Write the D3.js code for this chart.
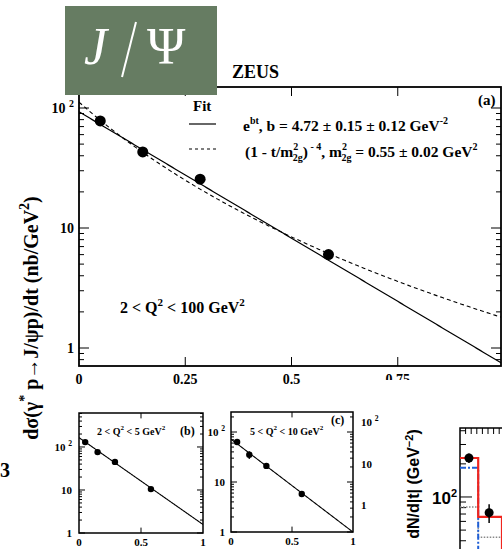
<!DOCTYPE html>
<html>
<head>
<meta charset="utf-8">
<script src="https://cdn.jsdelivr.net/npm/d3@7"></script>
<style>
  body { margin: 0; background: #fff; }
  svg text { font-family: "Liberation Serif", "Times New Roman", Times, "DejaVu Serif", serif; font-weight: bold; fill: #000; }
  svg text.sans { font-family: "Liberation Sans", Arial, Helvetica, sans-serif; }
</style>
</head>
<body>
<svg id="chart"></svg>
<script>
// ---- data ----
// panel (a): 2 < Q2 < 100 GeV2
var tA = [0.05, 0.15, 0.285, 0.587];
var sigA = [78, 43, 25.5, 6.0];
var errA = [4, 2.5, 1.5, 0.4];
var expA = [93, 4.85];        // norm, slope as drawn
var dipA = [112, 0.55];       // norm, m2_2g
var ticksA = [0, 0.25, 0.5, 0.75];

// panel (b): 2 < Q2 < 5
var tB = [0.05, 0.15, 0.29, 0.58];
var sigB = [130, 76, 45, 10.5];
var errB = [14, 9, 4, 1.2];
var expB = [165, 4.65];

// panel (c): 5 < Q2 < 10
var tC = [0.05, 0.15, 0.29, 0.58];
var sigC = [63, 35, 21, 5.75];
var errC = [7, 6, 2, 0.6];
var expC = [72, 4.28];

// bottom-right fragment: dN/d|t|
var binEdges = [0, 0.065, 0.15, 0.3];
var redHist = [226, 66, 25];
var blueHist = [184, 25, 20];
var greyHist = [81, 43, 20];
var tD = [0.032, 0.104];
var nD = [226, 72];
var errD = [22, 14];

var W = 502, H = 549;
var svg = d3.select("#chart").attr("width", W).attr("height", H);
svg.append("rect").attr("width", W).attr("height", H).attr("fill", "#fff");

function logTicks(lo, hi) {
    var out = [];
    for (var k = Math.floor(Math.log10(lo)); k <= Math.ceil(Math.log10(hi)); k++) {
        for (var m = 1; m <= 9; m++) {
            var v = m * Math.pow(10, k);
            if (v >= lo * 0.999 && v <= hi * 1.001) out.push({v: v, major: m == 1});
        }
    }
    return out;
}

// superscript label like "10 2"
function powLabel(g, x, y, v, size, anchor) {
    var t = g.append("text").attr("x", x).attr("y", y)
        .attr("text-anchor", anchor || "end")
        .style("font-size", size + "px");
    if (v >= 100) {
        t.append("tspan").text("10 ");
        t.append("tspan").attr("dy", -size * 0.45).style("font-size", (size * 0.7) + "px").text("2");
    } else {
        t.text(v == 10 ? "10" : "1");
    }
    return t;
}

// generic framed panel with log y axis
function drawPanel(o) {
    var g = svg.append("g");
    var x = d3.scaleLinear().domain([0, 1]).range([o.x0, o.x0 + o.xw]);
    var y = d3.scaleLog().domain(o.ydom).range([o.y1, o.y0]);
    var clipId = "clip" + o.id;
    svg.append("clipPath").attr("id", clipId).append("rect")
        .attr("x", o.x0).attr("y", o.y0).attr("width", o.x1 - o.x0).attr("height", o.y1 - o.y0);

    var lt = logTicks(o.ydom[0], o.ydom[1]);
    g.selectAll("line.lt").data(lt).enter().append("line")
        .attr("x1", o.x0).attr("x2", function(d) { return o.x0 + (d.major ? o.maj : o.min); })
        .attr("y1", function(d) { return y(d.v); }).attr("y2", function(d) { return y(d.v); })
        .attr("stroke", "#000").attr("stroke-width", 1);
    g.selectAll("line.rt").data(lt).enter().append("line")
        .attr("x1", o.x1).attr("x2", function(d) { return o.x1 - (d.major ? o.maj : o.min); })
        .attr("y1", function(d) { return y(d.v); }).attr("y2", function(d) { return y(d.v); })
        .attr("stroke", "#000").attr("stroke-width", 1);
    g.selectAll("line.bt").data(o.xticks.filter(function(d) { return d > 0; })).enter().append("line")
        .attr("x1", function(d) { return x(d); }).attr("x2", function(d) { return x(d); })
        .attr("y1", o.y1).attr("y2", o.y1 - o.maj * 0.9)
        .attr("stroke", "#000");
    g.selectAll("line.tt").data(o.xticks.filter(function(d) { return d > 0; })).enter().append("line")
        .attr("x1", function(d) { return x(d); }).attr("x2", function(d) { return x(d); })
        .attr("y1", o.y0).attr("y2", o.y0 + o.maj * 0.9)
        .attr("stroke", "#000");

    g.append("rect").attr("x", o.x0).attr("y", o.y0)
        .attr("width", o.x1 - o.x0).attr("height", o.y1 - o.y0)
        .attr("fill", "none").attr("stroke", "#000").attr("stroke-width", o.fw);

    // x labels
    g.selectAll("text.xl").data(o.xlabels).enter().append("text")
        .attr("x", function(d) { return x(d); }).attr("y", o.y1 + o.xlDy)
        .attr("text-anchor", "middle").style("font-size", o.lfs + "px")
        .text(function(d) { return d; });
    // y labels
    o.ylabels.forEach(function(v) {
        powLabel(g, o.ylX, y(v) + o.lfs * 0.35, v, o.lfs, o.ylAnchor);
    });

    var cg = g.append("g").attr("clip-path", "url(#" + clipId + ")");
    o.curves.forEach(function(c) {
        var line = d3.line().x(function(d) { return x(d); }).y(function(d) { return y(c.f(d)); });
        cg.append("path").datum(d3.range(0, 1.0001, 0.005))
            .attr("d", line).attr("fill", "none").attr("stroke", "#000")
            .attr("stroke-width", c.w).attr("stroke-dasharray", c.dash || null);
    });
    // error bars + points
    g.selectAll("line.eb").data(o.t).enter().append("line")
        .attr("x1", function(d) { return x(d); }).attr("x2", function(d) { return x(d); })
        .attr("y1", function(d, i) { return y(o.s[i] + o.e[i]); })
        .attr("y2", function(d, i) { return y(o.s[i] - o.e[i]); })
        .attr("stroke", "#000").attr("stroke-width", 1.5);
    g.selectAll("circle").data(o.t).enter().append("circle")
        .attr("cx", function(d) { return x(d); }).attr("cy", function(d, i) { return y(o.s[i]); })
        .attr("r", o.r).attr("fill", "#000");
    return {g: g, x: x, y: y};
}

// ---- panel (a) ----
var pa = drawPanel({
    id: "a", x0: 79, x1: 501, xw: 425, y0: 87, y1: 366,
    ydom: [Math.pow(10, -0.15), Math.pow(10, 2.175)],
    maj: 10, min: 5, fw: 1.8, lfs: 14, xlDy: 18, ylX: 74, ylAnchor: "end",
    xticks: ticksA, xlabels: ticksA, ylabels: [1, 10, 100],
    t: tA, s: sigA, e: errA, r: 5.5,
    curves: [
        {f: function(t) { return expA[0] * Math.exp(-expA[1] * t); }, w: 1.2},
        {f: function(t) { return dipA[0] * Math.pow(1 + t / dipA[1], -4); }, w: 1.1, dash: "4,3"}
    ]
});

// legend
var lg = svg.append("g");
lg.append("text").attr("x", 193).attr("y", 111).style("font-size", "15px").text("Fit");
lg.append("line").attr("x1", 189).attr("x2", 216).attr("y1", 124).attr("y2", 124).attr("stroke", "#000").attr("stroke-width", 1.2);
lg.append("line").attr("x1", 189).attr("x2", 216).attr("y1", 149).attr("y2", 149).attr("stroke", "#000").attr("stroke-width", 1.1).attr("stroke-dasharray", "3,3");
var l1 = lg.append("text").attr("x", 243).attr("y", 131).style("font-size", "15.5px");
l1.append("tspan").text("e");
l1.append("tspan").attr("dy", -7).style("font-size", "10px").text("bt");
l1.append("tspan").attr("dy", 7).text(", b = 4.72 \u00b1 0.15 \u00b1 0.12 GeV");
l1.append("tspan").attr("dy", -7).style("font-size", "10px").text("-2");
var l2 = lg.append("text").attr("x", 245).attr("y", 157).style("font-size", "15.5px");
l2.append("tspan").text("(1 - t/m");
l2.append("tspan").attr("dy", -7).style("font-size", "10px").text("2");
l2.append("tspan").attr("dx", -5.5).attr("dy", 11).style("font-size", "10px").text("2g");
l2.append("tspan").attr("dy", -4).text(")");
l2.append("tspan").attr("dy", -7).style("font-size", "10px").text(" - 4");
l2.append("tspan").attr("dy", 7).text(", m");
l2.append("tspan").attr("dy", -7).style("font-size", "10px").text("2");
l2.append("tspan").attr("dx", -5.5).attr("dy", 11).style("font-size", "10px").text("2g");
l2.append("tspan").attr("dy", -4).text(" = 0.55 \u00b1 0.02 GeV");
l2.append("tspan").attr("dy", -7).style("font-size", "10px").text("2");
svg.append("text").attr("x", 478).attr("y", 105).style("font-size", "15px").text("(a)");

var qa = svg.append("text").attr("x", 120).attr("y", 313).style("font-size", "16px");
qa.append("tspan").text("2 < Q");
qa.append("tspan").attr("dy", -7).style("font-size", "11px").text("2");
qa.append("tspan").attr("dy", 7).text(" < 100 GeV");
qa.append("tspan").attr("dy", -7).style("font-size", "11px").text("2");

// y title
var yt = svg.append("text").attr("transform", "translate(38,318) rotate(-90)")
    .attr("text-anchor", "middle").style("font-size", "20px");
yt.append("tspan").text("d\u03c3(\u03b3");
yt.append("tspan").attr("dy", -9).style("font-size", "14px").text("*");
yt.append("tspan").attr("dy", 9).text(" p\u2192J/\u03c8p)/dt (nb/GeV");
yt.append("tspan").attr("dy", -9).style("font-size", "14px").text("2");
yt.append("tspan").attr("dy", 9).text(")");

svg.append("text").attr("x", 0).attr("y", 477).style("font-size", "20px").text("3");

// ---- panel (b) ----
drawPanel({
    id: "b", x0: 79, x1: 203, xw: 124, y0: 413, y1: 533,
    ydom: [1, Math.pow(10, 2.79)],
    maj: 6, min: 3, fw: 1.5, lfs: 11, xlDy: 13, ylX: 72, ylAnchor: "end",
    xticks: [0.5], xlabels: [0, 0.5, 1], ylabels: [1, 10, 100],
    t: tB, s: sigB, e: errB, r: 3.2,
    curves: [{f: function(t) { return expB[0] * Math.exp(-expB[1] * t); }, w: 1.1}]
});
var qb = svg.append("text").attr("x", 97).attr("y", 435).style("font-size", "10px");
qb.append("tspan").text("2 < Q");
qb.append("tspan").attr("dy", -5).style("font-size", "7px").text("2");
qb.append("tspan").attr("dy", 5).text(" < 5 GeV");
qb.append("tspan").attr("dy", -5).style("font-size", "7px").text("2");
svg.append("text").attr("x", 180).attr("y", 435).style("font-size", "12px").text("(b)");

// ---- panel (c) ----
var pc = drawPanel({
    id: "c", x0: 231, x1: 353, xw: 122, y0: 412, y1: 532,
    ydom: [1, Math.pow(10, 2.4)],
    maj: 6, min: 3, fw: 1.5, lfs: 11, xlDy: 13, ylX: 225, ylAnchor: "end",
    xticks: [0.5], xlabels: [0, 0.5, 1], ylabels: [1, 10, 100],
    t: tC, s: sigC, e: errC, r: 3.2,
    curves: [{f: function(t) { return expC[0] * Math.exp(-expC[1] * t); }, w: 1.1}]
});
var qc = svg.append("text").attr("x", 250).attr("y", 435).style("font-size", "10px");
qc.append("tspan").text("5 < Q");
qc.append("tspan").attr("dy", -5).style("font-size", "7px").text("2");
qc.append("tspan").attr("dy", 5).text(" < 10 GeV");
qc.append("tspan").attr("dy", -5).style("font-size", "7px").text("2");
svg.append("text").attr("x", 331).attr("y", 424).style("font-size", "12px").text("(c)");
// right-hand labels of the neighbouring panel
var yR = d3.scaleLog().domain([1, 100]).range([505, 422]);
[1, 10, 100].forEach(function(v) {
    powLabel(svg, 361, yR(v) + 4, v, 11, "start");
});

// ---- white cover + bottom-right fragment ----
svg.append("rect").attr("x", 381).attr("y", 380).attr("width", W - 381).attr("height", H - 380).attr("fill", "#fff");

var xd = d3.scaleLinear().domain([0, 0.15]).range([460, 502]);
var yd = d3.scaleLog().domain([10, Math.pow(10, 2.627)]).range([428 + 69 + 110, 428]);
var fd = svg.append("g");
var dl = logTicks(20, 400);
fd.selectAll("line.lt").data(dl).enter().append("line")
    .attr("x1", 460).attr("x2", function(d) { return 460 + (d.major ? 12 : 6); })
    .attr("y1", function(d) { return yd(d.v); }).attr("y2", function(d) { return yd(d.v); })
    .attr("stroke", "#000").attr("stroke-width", 1);
fd.selectAll("line.tt").data(d3.range(0.02, 0.15, 0.02)).enter().append("line")
    .attr("x1", function(d) { return xd(d); }).attr("x2", function(d) { return xd(d); })
    .attr("y1", 428).attr("y2", 434).attr("stroke", "#000");
fd.append("path").attr("d", "M460,560V428H510").attr("fill", "none").attr("stroke", "#000").attr("stroke-width", 1.5);

function stepPath(vals) {
    var p = "";
    vals.forEach(function(v, i) {
        p += (i == 0 ? "M" : "L") + xd(binEdges[i]) + "," + yd(v) + "L" + xd(binEdges[i + 1]) + "," + yd(v);
    });
    return p;
}
fd.append("path").attr("d", stepPath(greyHist)).attr("fill", "none").attr("stroke", "#888").attr("stroke-width", 1.5).attr("stroke-dasharray", "1.5,1.5");
fd.append("path").attr("d", stepPath(blueHist)).attr("fill", "none").attr("stroke", "#1f5fd6").attr("stroke-width", 2).attr("stroke-dasharray", "6,2,2,2");
fd.append("path").attr("d", stepPath(redHist)).attr("fill", "none").attr("stroke", "#f0251e").attr("stroke-width", 2.2);
fd.selectAll("line.eb").data(tD).enter().append("line")
    .attr("x1", function(d) { return xd(d); }).attr("x2", function(d) { return xd(d); })
    .attr("y1", function(d, i) { return yd(nD[i] + errD[i]); })
    .attr("y2", function(d, i) { return yd(nD[i] - errD[i]); })
    .attr("stroke", "#000").attr("stroke-width", 1.5);
fd.selectAll("circle").data(tD).enter().append("circle")
    .attr("cx", function(d) { return xd(d); }).attr("cy", function(d, i) { return yd(nD[i]); })
    .attr("r", 4.5).attr("fill", "#000");
var l10 = fd.append("text").attr("class", "sans").attr("x", 432).attr("y", yd(100) + 7).style("font-size", "17px");
l10.append("tspan").text("10");
l10.append("tspan").attr("dy", -7).style("font-size", "11px").text("2");
var ydt = fd.append("text").attr("class", "sans").attr("transform", "translate(419,484) rotate(-90)")
    .attr("text-anchor", "middle").style("font-size", "16px");
ydt.append("tspan").text("dN/d|t| (GeV");
ydt.append("tspan").attr("dy", -6).style("font-size", "11px").text("\u22122");
ydt.append("tspan").attr("dy", 6).text(")");

// ---- J/Psi badge and ZEUS ----
svg.append("rect").attr("x", 65).attr("y", 6).attr("width", 152).attr("height", 89).attr("fill", "#667c62");
svg.append("text").attr("x", 84).attr("y", 64).style("font-size", "52px").style("font-weight", "normal")
    .style("font-style", "italic").style("fill", "#fff").text("J");
svg.append("line").attr("x1", 136).attr("y1", 22).attr("x2", 122).attr("y2", 77).attr("stroke", "#fff").attr("stroke-width", 2);
svg.append("text").attr("x", 147).attr("y", 64).style("font-size", "52px").style("font-weight", "normal")
    .style("fill", "#fff").text("\u03a8");
svg.append("text").attr("x", 232).attr("y", 78).style("font-size", "18px").text("ZEUS");
</script>
</body>
</html>
